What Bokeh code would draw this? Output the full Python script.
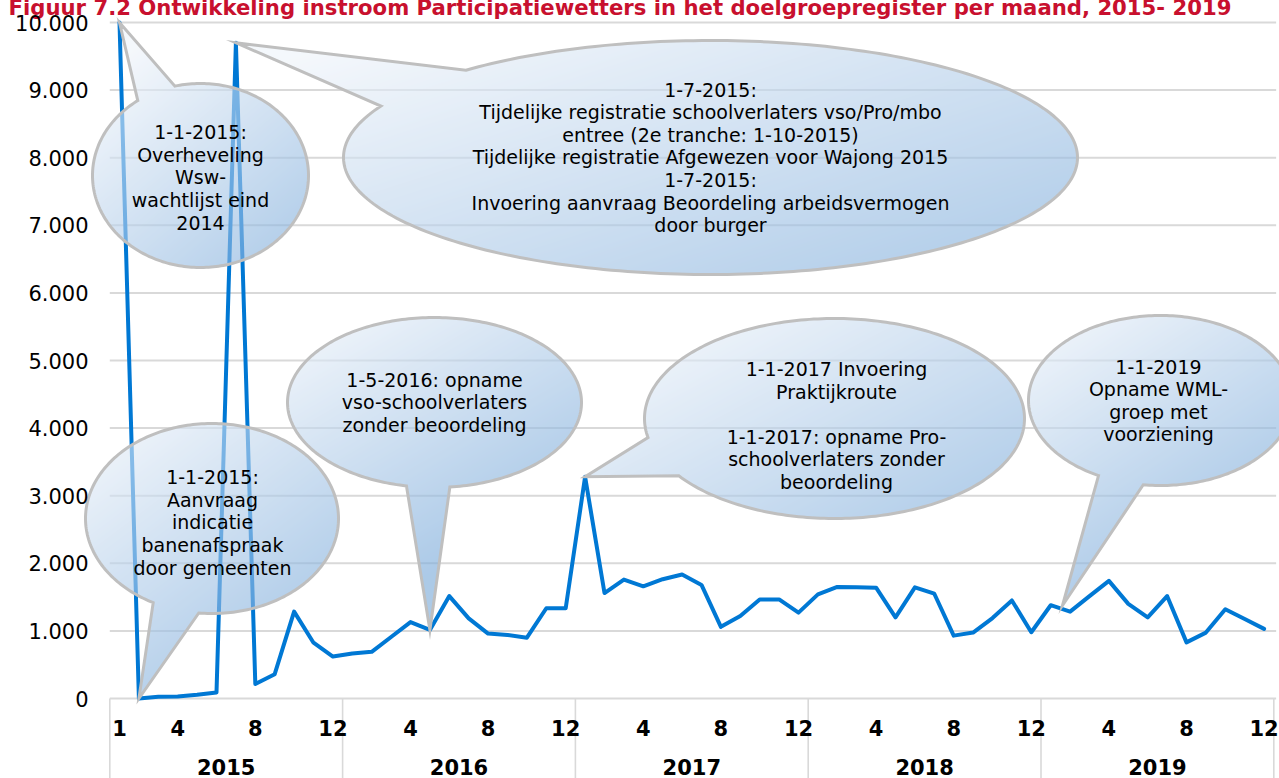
import numpy as np
from bokeh.plotting import figure
from bokeh.models import FixedTicker, Range1d
from bokeh.embed import file_html
from bokeh.resources import INLINE
from bokeh.core.properties import value

# ---------------- data ----------------
title_text = ("Figuur 7.2 Ontwikkeling instroom Participatiewetters in het "
              "doelgroepregister per maand, 2015- 2019")
years = ["2015", "2016", "2017", "2018", "2019"]
instroom_2015 = [10000, 0, 25, 30, 55, 90, 9700, 215, 360, 1285, 825, 620]
instroom_2016 = [665, 690, 910, 1130, 1015, 1515, 1185, 960, 940, 900, 1335, 1335]
instroom_2017 = [3280, 1560, 1760, 1660, 1765, 1835, 1680, 1060, 1220, 1465, 1465, 1270]
instroom_2018 = [1540, 1650, 1645, 1640, 1200, 1645, 1550, 930, 975, 1190, 1450, 980]
instroom_2019 = [1380, 1285, 1515, 1740, 1400, 1200, 1515, 830, 975, 1320, 1175, 1030]
month_ticks_first_year = [1, 4, 8, 12]
month_ticks_other_years = [4, 8, 12]
y_ticks = [0, 1000, 2000, 3000, 4000, 5000, 6000, 7000, 8000, 9000, 10000]
y_tick_labels = ["0", "1.000", "2.000", "3.000", "4.000", "5.000",
                 "6.000", "7.000", "8.000", "9.000", "10.000"]

callout_texts = [
    "1-1-2015:\nOverheveling\nWsw-\nwachtlijst eind\n2014",
    "1-7-2015:\nTijdelijke registratie schoolverlaters vso/Pro/mbo\n"
    "entree (2e tranche: 1-10-2015)\nTijdelijke registratie Afgewezen voor Wajong 2015\n"
    "1-7-2015:\nInvoering aanvraag Beoordeling arbeidsvermogen\ndoor burger",
    "1-1-2015:\nAanvraag\nindicatie\nbanenafspraak\ndoor gemeenten",
    "1-5-2016: opname\nvso-schoolverlaters\nzonder beoordeling",
    "1-1-2017 Invoering\nPraktijkroute\n\n1-1-2017: opname Pro-\nschoolverlaters zonder\nbeoordeling",
    "1-1-2019\nOpname WML-\ngroep met\nvoorziening",
]
# month index (1..60) that each callout points at
callout_months = [1, 7, 2, 17, 25, 49.6]

instroom = instroom_2015 + instroom_2016 + instroom_2017 + instroom_2018 + instroom_2019
months = list(range(1, len(instroom) + 1))

# ---------------- pixel <-> data helpers (layout) ----------------
PX0, PXM = 109.3, 19.4      # page x of month boundary 0.5, px per month
PY0, PYV = 698.0, 0.0676    # page y of value 0, px per unit


def dx(p):
    return 0.5 + (np.asarray(p, dtype=float) - PX0) / PXM


def dy(p):
    return (PY0 - np.asarray(p, dtype=float)) / PYV


def to_px(x):
    return PX0 + (x - 0.5) * PXM


def to_py(v):
    return PY0 - v * PYV


# callout geometry (page pixels): ellipse centre/radii, pointer base angles, text centre
geom = [
    dict(cx=200, cy=175, rx=108, ry=92, a1=-125.5, a2=-103.7, tx=200, ty=177),
    dict(cx=710, cy=157, rx=367, ry=117, a1=-153.9, a2=-131.8, tx=710, ty=157),
    dict(cx=211.5, cy=518, rx=126.5, ry=95, a1=96, a2=117.7, tx=212, ty=522),
    dict(cx=434, cy=402, rx=147, ry=85, a1=84, a2=101, tx=434, ty=402),
    dict(cx=834, cy=418, rx=190, ry=100, a1=145, a2=169, tx=836, ty=425),
    dict(cx=1160, cy=400, rx=132, ry=85, a1=97.5, a2=118, tx=1158, ty=400),
]


def tip_value(m):
    if float(m).is_integer():
        return instroom[int(m) - 1]
    return 1376


def bubble_polygon(g, tip, n=260):
    th = np.radians(np.linspace(g["a2"], g["a1"] + 360, n))
    xs = g["cx"] + g["rx"] * np.cos(th)
    ys = g["cy"] + g["ry"] * np.sin(th)
    return np.append(xs, tip[0]), np.append(ys, tip[1])


def point_in_poly(gx, gy, xs, ys):
    inside = np.zeros(gx.shape, dtype=bool)
    n = len(xs)
    j = n - 1
    with np.errstate(divide="ignore", invalid="ignore"):
        for i in range(n):
            xi, yi, xj, yj = xs[i], ys[i], xs[j], ys[j]
            cond = (yi > gy) != (yj > gy)
            xint = (xj - xi) * (gy - yi) / (yj - yi) + xi
            inside ^= cond & (gx < xint)
            j = i
    return inside


C0 = np.array([245.0, 248.0, 252.0])
C1 = np.array([172.0, 202.0, 232.0])
ALPHA = 0.62


def bubble_image(xs, ys, g):
    x0 = int(np.floor(xs.min())) - 2
    x1 = int(np.ceil(xs.max())) + 2
    y0 = int(np.floor(ys.min())) - 2
    y1 = int(np.ceil(ys.max())) + 2
    gx, gy = np.meshgrid(np.arange(x0, x1) + 0.5, np.arange(y0, y1) + 0.5)
    mask = point_in_poly(gx, gy, xs, ys)
    t = ((gx - (g["cx"] - g["rx"])) / (2 * g["rx"]) + (gy - (g["cy"] - g["ry"])) / (2 * g["ry"])) / 2
    t = np.clip(t, 0, 1)[..., None]
    vis = C0 * (1 - t) + C1 * t
    base = np.clip((vis - (1 - ALPHA) * 255) / ALPHA, 0, 255)
    H, W = gx.shape
    rgba = np.zeros((H, W, 4), dtype=np.uint8)
    rgba[..., :3] = base.astype(np.uint8)
    rgba[..., 3] = np.where(mask, int(ALPHA * 255), 0).astype(np.uint8)
    img = rgba[::-1].copy().view(np.uint32).reshape(H, W)
    return img, x0, x1, y0, y1


# ---------------- figure: frame covers the whole canvas (page y -8 .. 778) ----------------
p = figure(width=1279, height=786, output_backend="svg", toolbar_location=None,
           x_range=Range1d(float(dx(0)), float(dx(1279))),
           y_range=Range1d(float(dy(778)), float(dy(-8))),
           x_axis_location=None, y_axis_location="left",
           min_border_left=0, min_border_right=0, min_border_top=0, min_border_bottom=0,
           margin=(-8, -8, -8, 0))
p.outline_line_color = None
p.background_fill_color = "white"
p.border_fill_color = "white"
p.xgrid.visible = False
p.ygrid.visible = False

ax = p.yaxis[0]
ax.ticker = FixedTicker(ticks=y_ticks)
ax.major_label_overrides = {tk: lb for tk, lb in zip(y_ticks, y_tick_labels)}
ax.major_label_text_font = "DejaVu Sans"
ax.major_label_text_font_size = "21px"
ax.major_label_text_color = "#000000"
ax.axis_line_color = None
ax.major_tick_line_color = None
ax.minor_tick_line_color = None
ax.major_tick_out = 0
ax.major_tick_in = 0
ax.minor_tick_out = 0
ax.minor_tick_in = 0
# labels are pushed into the canvas so that they end at page x = 88
ax.major_label_standoff = -88

GRID = "#D9D9D9"
# horizontal gridlines
p.segment(x0=[0.5] * len(y_ticks), y0=y_ticks, x1=[60.62] * len(y_ticks), y1=y_ticks,
          line_color=GRID, line_width=2)
# year separators in the category axis
seps = [0.5 + 12 * k for k in range(len(years) + 1)]
p.segment(x0=seps, y0=[0] * len(seps), x1=seps, y1=[float(dy(778))] * len(seps),
          line_color=GRID, line_width=1.6)

# month labels
mx, mt = [], []
for k, yr in enumerate(years):
    ticks = month_ticks_first_year if k == 0 else month_ticks_other_years
    for m in ticks:
        mx.append(12 * k + m)
        mt.append(str(m))
p.text(x=mx, y=[float(dy(727))] * len(mx), text=mt, text_align="center",
       text_baseline="middle", text_font=value("DejaVu Sans"), text_font_style="bold",
       text_font_size="21px", text_color="#000000")
# year labels
p.text(x=[12 * k + 6.5 for k in range(len(years))], y=[float(dy(766))] * len(years),
       text=years, text_align="center", text_baseline="middle",
       text_font=value("DejaVu Sans"), text_font_style="bold", text_font_size="21px",
       text_color="#000000")

# data line
p.line(months, instroom, line_color="#0078D4", line_width=4, line_join="round",
       line_cap="round")

# callouts
for txt, m, g in zip(callout_texts, callout_months, geom):
    if float(m).is_integer():
        tip = (to_px(m), to_py(tip_value(m)))
    else:
        tip = (1062.0, 605.0)
    xs, ys = bubble_polygon(g, tip)
    img, x0, x1, y0, y1 = bubble_image(xs, ys, g)
    p.image_rgba(image=[img], x=float(dx(x0)), y=float(dy(y1)),
                 dw=(x1 - x0) / PXM, dh=(y1 - y0) / PYV)
    p.patch(x=list(dx(xs)), y=list(dy(ys)), fill_alpha=0, line_color="#BFBFBF",
            line_width=3, line_join="miter")
    p.text(x=[float(dx(g["tx"]))], y=[float(dy(g["ty"]))], text=[txt],
           text_align="center", text_baseline="middle", text_font=value("DejaVu Sans"),
           text_font_size="19px", text_line_height=1.03, text_color="#000000")

# title (cut off at the top edge, as in the source)
p.text(x=[float(dx(8))], y=[float(dy(7))], text=[title_text], text_align="left",
       text_baseline="alphabetic", text_font=value("DejaVu Sans"), text_font_style="bold",
       text_font_size="21.2px", text_color="#C8102E")

open("out.html", "w").write(file_html(p, INLINE))
